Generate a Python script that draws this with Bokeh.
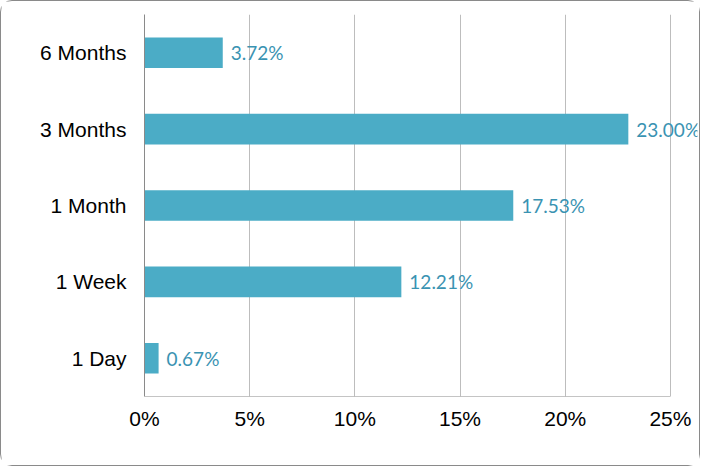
from bokeh.plotting import figure
from bokeh.models import Range1d, PrintfTickFormatter, FixedTicker, ColumnDataSource, LabelSet
from bokeh.core.properties import value
from bokeh.embed import file_html
from bokeh.resources import INLINE

periods = ["1 Day", "1 Week", "1 Month", "3 Months", "6 Months"]
shares = [0.67, 12.21, 17.53, 23.00, 3.72]
tick_values = [0, 5, 10, 15, 20, 25]
labels = [f"{v:.2f}%" for v in shares]

pos = list(range(len(periods)))
src = ColumnDataSource(dict(pos=pos, share=shares, label=labels))

x_max = tick_values[-1]
x_end = x_max * 551 / 524  # leave room for the data label past the last gridline

p = figure(width=700, height=466, output_backend="svg", toolbar_location=None,
           y_range=Range1d(-0.5, len(periods) - 0.5), x_range=Range1d(0, x_end),
           min_border_left=143, min_border_right=4, min_border_top=13, min_border_bottom=71)
p.styles = {"border": "1px solid #8a8a8a", "border-radius": "12px", "box-sizing": "border-box"}
p.outline_line_color = None
p.background_fill_color = "white"

p.hbar(y="pos", right="share", left=0, height=0.4, source=src,
       fill_color="#4BACC6", line_color=None)
p.add_layout(LabelSet(x="share", y="pos", text="label", source=src, x_offset=8,
                      text_baseline="middle", text_align="left", text_color="#3A93B2",
                      text_font=value("Lato"), text_font_size="19px"))
# bottom axis line only up to the last tick
p.segment(x0=[0], y0=[-0.5], x1=[x_max], y1=[-0.5], line_color="#8a8a8a", line_width=1)

p.xaxis.ticker = FixedTicker(ticks=tick_values)
p.xaxis.formatter = PrintfTickFormatter(format="%d%%")
p.yaxis.ticker = FixedTicker(ticks=pos)
p.yaxis.major_label_overrides = {i: name for i, name in zip(pos, periods)}
for ax in (p.xaxis, p.yaxis):
    ax.major_tick_line_color = None
    ax.minor_tick_line_color = None
    ax.major_tick_out = 0
    ax.major_tick_in = 0
    ax.major_label_text_font = "Liberation Sans"
    ax.major_label_text_font_size = "21px"
    ax.major_label_text_color = "black"
p.xaxis.axis_line_color = None
p.yaxis.axis_line_color = "#8a8a8a"
p.xaxis.major_label_standoff = 10
p.yaxis.major_label_standoff = 18

p.xgrid.grid_line_color = "#BDBDBD"
p.ygrid.grid_line_color = None

open("out.html", "w").write(file_html(p, INLINE))
